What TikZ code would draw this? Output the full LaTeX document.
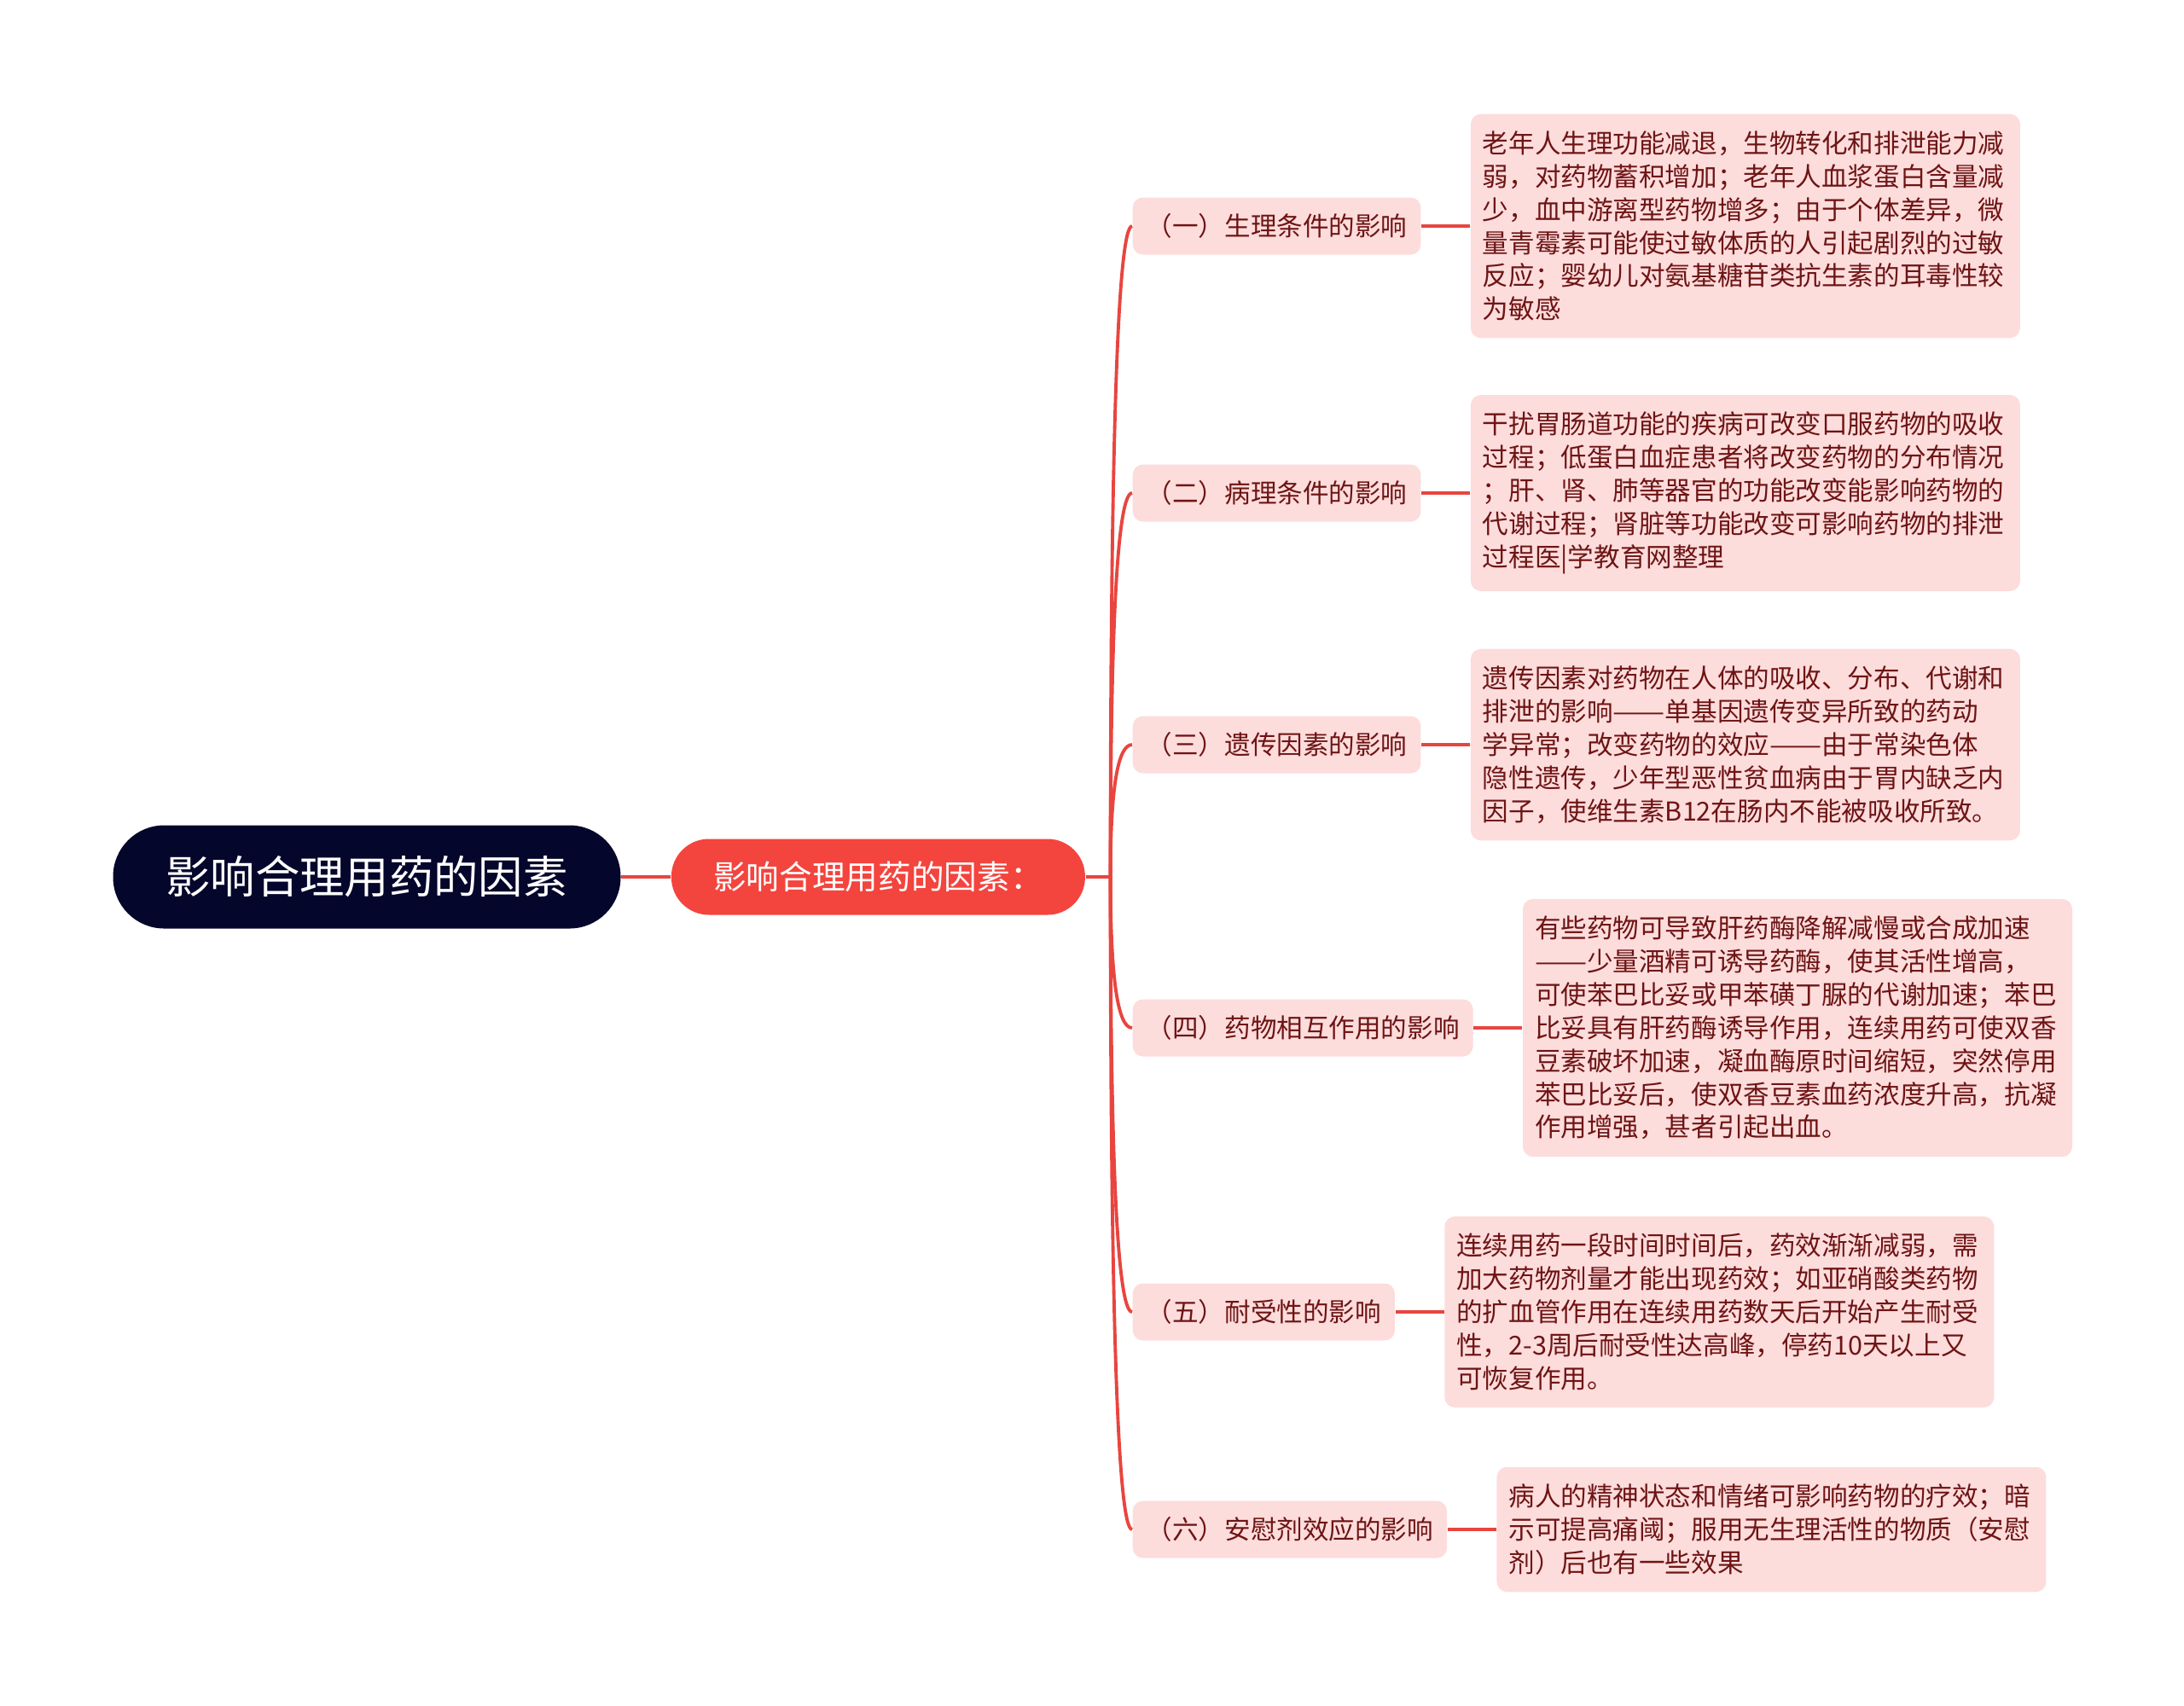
\documentclass[tikz,border=0pt]{standalone}
\usepackage{fontspec}
\usepackage{graphicx}
\setmainfont{Noto Sans CJK SC}
\usetikzlibrary{positioning,calc}
\definecolor{navy}{HTML}{05062B}
\definecolor{redfill}{HTML}{F4443E}
\definecolor{redline}{HTML}{E8453F}
\definecolor{pinkfill}{HTML}{FDDCDC}
\definecolor{darkred}{HTML}{6E1414}
\newcommand{\longdash}{\resizebox{2em}{\height}{——}}
\begin{document}
\begin{tikzpicture}
		\tikzset{rootnode/.style = {shape=rectangle,rounded corners=0.6cm,fill=navy,text=white,minimum width=5.95cm,minimum height=1.21cm,font=\fontsize{14.9pt}{18pt}\selectfont}}
		\tikzset{mainnode/.style = {shape=rectangle,rounded corners=0.44cm,fill=redfill,text=white,minimum width=4.85cm,minimum height=0.89cm,font=\fontsize{11pt}{13pt}\selectfont}}
		\tikzset{topic/.style = {shape=rectangle,rounded corners=0.12cm,fill=pinkfill,text=darkred,anchor=west,inner xsep=0.16cm,minimum height=0.67cm,font=\fontsize{8.7pt}{11pt}\selectfont}}
		\tikzset{detail/.style = {shape=rectangle,rounded corners=0.12cm,fill=pinkfill,text=darkred,align=left,text width=6.16cm,inner xsep=0.14cm,inner ysep=0.2cm,font=\fontsize{8.7pt}{11.06pt}\selectfont}}
		\tikzset{link/.style = {draw=redline,line width=1.1pt}}
		\useasboundingbox (0,0) rectangle (25.6,-19.99);
		\node[rootnode] (root) at (4.30,-10.28) {影响合理用药的因素};
		\node[mainnode, right=0.58cm of root] (main) {影响合理用药的因素：};
		\node[topic] (c1) at (13.27,-2.65) {（一）生理条件的影响};
		\node[topic] (c2) at (13.27,-5.78) {（二）病理条件的影响};
		\node[topic] (c3) at (13.27,-8.73) {（三）遗传因素的影响};
		\node[topic] (c4) at (13.27,-12.05) {（四）药物相互作用的影响};
		\node[topic] (c5) at (13.27,-15.38) {（五）耐受性的影响};
		\node[topic] (c6) at (13.27,-17.93) {（六）安慰剂效应的影响};
		\node[detail, right=0.57cm of c1] (d1) {老年人生理功能减退，生物转化和排泄能力减\\弱，对药物蓄积增加；老年人血浆蛋白含量减\\少，血中游离型药物增多；由于个体差异，微\\量青霉素可能使过敏体质的人引起剧烈的过敏\\反应；婴幼儿对氨基糖苷类抗生素的耳毒性较\\为敏感};
		\node[detail, right=0.57cm of c2] (d2) {干扰胃肠道功能的疾病可改变口服药物的吸收\\过程；低蛋白血症患者将改变药物的分布情况\\；肝、肾、肺等器官的功能改变能影响药物的\\代谢过程；肾脏等功能改变可影响药物的排泄\\过程医|学教育网整理};
		\node[detail, right=0.57cm of c3] (d3) {遗传因素对药物在人体的吸收、分布、代谢和\\排泄的影响\longdash 单基因遗传变异所致的药动\\学异常；改变药物的效应\longdash 由于常染色体\\隐性遗传，少年型恶性贫血病由于胃内缺乏内\\因子，使维生素B12在肠内不能被吸收所致。};
		\node[detail, right=0.57cm of c4] (d4) {有些药物可导致肝药酶降解减慢或合成加速\\\longdash 少量酒精可诱导药酶，使其活性增高，\\可使苯巴比妥或甲苯磺丁脲的代谢加速；苯巴\\比妥具有肝药酶诱导作用，连续用药可使双香\\豆素破坏加速，凝血酶原时间缩短，突然停用\\苯巴比妥后，使双香豆素血药浓度升高，抗凝\\作用增强，甚者引起出血。};
		\node[detail, right=0.57cm of c5] (d5) {连续用药一段时间时间后，药效渐渐减弱，需\\加大药物剂量才能出现药效；如亚硝酸类药物\\的扩血管作用在连续用药数天后开始产生耐受\\性，2-3周后耐受性达高峰，停药10天以上又\\可恢复作用。};
		\node[detail, right=0.57cm of c6] (d6) {病人的精神状态和情绪可影响药物的疗效；暗\\示可提高痛阈；服用无生理活性的物质（安慰\\剂）后也有一些效果};
		\coordinate (trunk) at ([xshift=0.29cm]main.east);
		\draw[link] (root) -- (main);
		\draw[link] (main.east) -- (trunk);
		\draw[link] (trunk) .. controls ($(trunk)!0.667!(trunk |- c1.west)$) and ($(c1.west)!0.667!(trunk |- c1.west)$) .. (c1.west);
		\draw[link] (trunk) .. controls ($(trunk)!0.667!(trunk |- c2.west)$) and ($(c2.west)!0.667!(trunk |- c2.west)$) .. (c2.west);
		\draw[link] (trunk) .. controls ($(trunk)!0.667!(trunk |- c3.west)$) and ($(c3.west)!0.667!(trunk |- c3.west)$) .. (c3.west);
		\draw[link] (trunk) .. controls ($(trunk)!0.667!(trunk |- c4.west)$) and ($(c4.west)!0.667!(trunk |- c4.west)$) .. (c4.west);
		\draw[link] (trunk) .. controls ($(trunk)!0.667!(trunk |- c5.west)$) and ($(c5.west)!0.667!(trunk |- c5.west)$) .. (c5.west);
		\draw[link] (trunk) .. controls ($(trunk)!0.667!(trunk |- c6.west)$) and ($(c6.west)!0.667!(trunk |- c6.west)$) .. (c6.west);
		\draw[link] (c1) -- (d1);
		\draw[link] (c2) -- (d2);
		\draw[link] (c3) -- (d3);
		\draw[link] (c4) -- (d4);
		\draw[link] (c5) -- (d5);
		\draw[link] (c6) -- (d6);
	\end{tikzpicture}
\end{document}
